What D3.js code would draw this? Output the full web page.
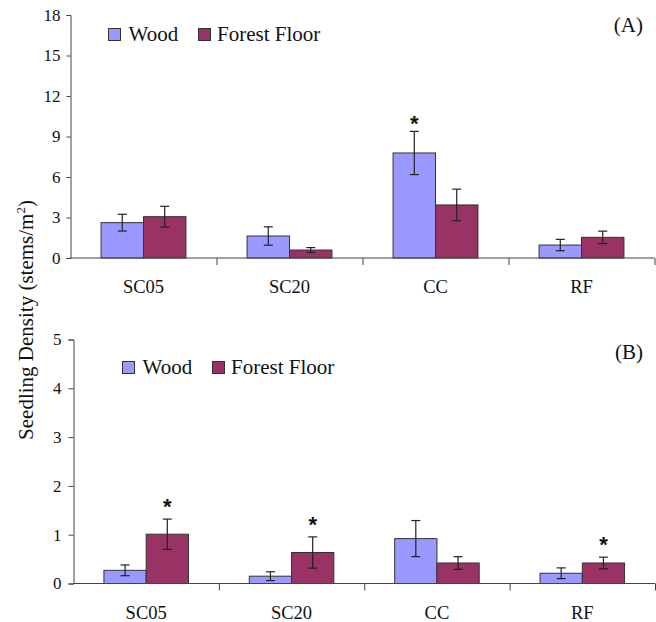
<!DOCTYPE html>
<html>
<head>
<meta charset="utf-8">
<script src="https://cdn.jsdelivr.net/npm/d3@7"></script>
<style>
  body { margin: 0; background: #fff; }
  svg { display: block; }
  text { font-family: "Liberation Serif", "Times New Roman", serif; fill: #111; }
</style>
</head>
<body>
<svg id="chart" width="656" height="622"></svg>
<script>
// ---- data ----
const categories = ["SC05", "SC20", "CC", "RF"];
const series = ["Wood", "Forest Floor"];
// Panel A
const woodA = [2.62, 1.63, 7.78, 0.96];
const woodAErr = [0.62, 0.68, 1.6, 0.42];
const floorA = [3.06, 0.59, 3.93, 1.53];
const floorAErr = [0.77, 0.18, 1.17, 0.46];
const starsA = [[2, 0]]; // [category index, series index]
const ticksA = [0, 3, 6, 9, 12, 15, 18];
// Panel B
const woodB = [0.27, 0.15, 0.92, 0.21];
const woodBErr = [0.11, 0.09, 0.37, 0.11];
const floorB = [1.01, 0.635, 0.42, 0.42];
const floorBErr = [0.31, 0.32, 0.13, 0.12];
const starsB = [[0, 1], [1, 1], [3, 1]];
const ticksB = [0, 1, 2, 3, 4, 5];

const colors = ["#9999FF", "#993366"];
const svg = d3.select("#chart");

function panel(opt) {
  const g = svg.append("g");
  const x0 = d3.scaleBand().domain(categories).range([opt.left, opt.right]).paddingInner(0).paddingOuter(0);
  const xIdx = d3.scaleLinear().domain([0, categories.length]).range([opt.left, opt.right]);
  const x1 = d3.scaleBand().domain(series).range([0, x0.bandwidth()]).paddingInner(0).paddingOuter(0.72);
  const y = d3.scaleLinear().domain([0, opt.max]).range([opt.bottom, opt.top]);

  const data = [];
  categories.forEach((c, i) => {
    data.push({ c, i, s: series[0], si: 0, v: opt.wood[i], e: opt.woodErr[i] });
    data.push({ c, i, s: series[1], si: 1, v: opt.floor[i], e: opt.floorErr[i] });
  });
  const cx = d => x0(d.c) + x1(d.s) + x1.bandwidth() / 2;

  // bars
  g.selectAll("rect.bar").data(data).join("rect")
    .attr("class", "bar")
    .attr("x", d => x0(d.c) + x1(d.s))
    .attr("y", d => y(d.v))
    .attr("width", x1.bandwidth())
    .attr("height", d => y(0) - y(d.v))
    .attr("fill", d => colors[d.si])
    .attr("stroke", "#333")
    .attr("stroke-width", 1);

  // error bars
  const cap = 4.5;
  const eb = g.selectAll("g.err").data(data).join("g").attr("class", "err")
    .attr("stroke", "#222").attr("stroke-width", 1.2);
  eb.append("line")
    .attr("x1", cx).attr("x2", cx)
    .attr("y1", d => y(d.v + d.e)).attr("y2", d => y(d.v - d.e));
  eb.append("line")
    .attr("x1", d => cx(d) - cap).attr("x2", d => cx(d) + cap)
    .attr("y1", d => y(d.v + d.e)).attr("y2", d => y(d.v + d.e));
  eb.append("line")
    .attr("x1", d => cx(d) - cap).attr("x2", d => cx(d) + cap)
    .attr("y1", d => y(d.v - d.e)).attr("y2", d => y(d.v - d.e));

  // stars
  opt.stars.forEach(([ci, si]) => {
    const d = data.find(dd => dd.i === ci && dd.si === si);
    g.append("text")
      .attr("x", cx(d))
      .attr("y", y(d.v + d.e) - opt.starGap)
      .attr("text-anchor", "middle")
      .style("font-family", "'Liberation Sans', Arial, sans-serif")
      .style("font-weight", "bold")
      .style("font-size", "22px")
      .text("*");
  });

  // y axis
  const yAxis = g.append("g").attr("transform", `translate(${opt.left},0)`)
    .call(d3.axisLeft(y).tickValues(opt.ticks).tickSize(opt.tick).tickPadding(opt.pad).tickFormat(d3.format("d")));
  yAxis.select(".domain").attr("stroke", "#444");
  yAxis.selectAll(".tick line").attr("stroke", "#444");
  yAxis.selectAll(".tick text").style("font-family", "'Liberation Serif', serif").style("font-size", "17px").attr("fill", "#111");

  // x axis (boundary ticks)
  const xAxis = g.append("g").attr("transform", `translate(0,${opt.bottom})`)
    .call(d3.axisBottom(xIdx).tickValues(d3.range(1, categories.length + 1)).tickSize(7).tickFormat(""));
  xAxis.select(".domain").attr("stroke", "#444").attr("d", `M${opt.left},0H${opt.right}`);
  xAxis.selectAll(".tick line").attr("stroke", "#444");

  // category labels
  g.selectAll("text.cat").data(categories).join("text")
    .attr("class", "cat")
    .attr("x", c => x0(c) + x0.bandwidth() / 2)
    .attr("y", opt.bottom + 35)
    .attr("text-anchor", "middle")
    .style("font-size", "18.5px")
    .text(c => c);

  // legend
  const lg = g.append("g");
  series.forEach((s, i) => {
    lg.append("rect")
      .attr("x", opt.legX[i]).attr("y", opt.legY - 12.5)
      .attr("width", 12).attr("height", 12)
      .attr("fill", colors[i]).attr("stroke", "#333").attr("stroke-width", 1);
    lg.append("text")
      .attr("x", opt.legX[i] + opt.legGap[i]).attr("y", opt.legY)
      .style("font-size", "21px")
      .text(s);
  });

  // panel label
  g.append("text")
    .attr("x", 643).attr("y", opt.labY)
    .attr("text-anchor", "end")
    .style("font-size", "21px")
    .text(opt.label);
}

panel({ left: 70.5, right: 654.5, top: 15, bottom: 258, max: 18,
  wood: woodA, woodErr: woodAErr, floor: floorA, floorErr: floorAErr,
  stars: starsA, starGap: 0, ticks: ticksA, tick: 4, pad: 6,
  legX: [108.5, 198.5], legGap: [20, 18.5], legY: 41, label: "(A)", labY: 32 });

panel({ left: 73.5, right: 655, top: 339.5, bottom: 583.5, max: 5,
  wood: woodB, woodErr: woodBErr, floor: floorB, floorErr: floorBErr,
  stars: starsB, starGap: 5, ticks: ticksB, tick: 5, pad: 7,
  legX: [122.5, 212.5], legGap: [20, 18.5], legY: 374, label: "(B)", labY: 359 });

// shared y-axis title
const yt = svg.append("text")
  .attr("transform", "translate(33,320) rotate(-90)")
  .attr("text-anchor", "middle")
  .style("font-size", "21px");
yt.append("tspan").text("Seedling Density (stems/m");
yt.append("tspan").attr("dy", -8).style("font-size", "13px").text("2");
yt.append("tspan").attr("dy", 8).text(")");
</script>
</body>
</html>
